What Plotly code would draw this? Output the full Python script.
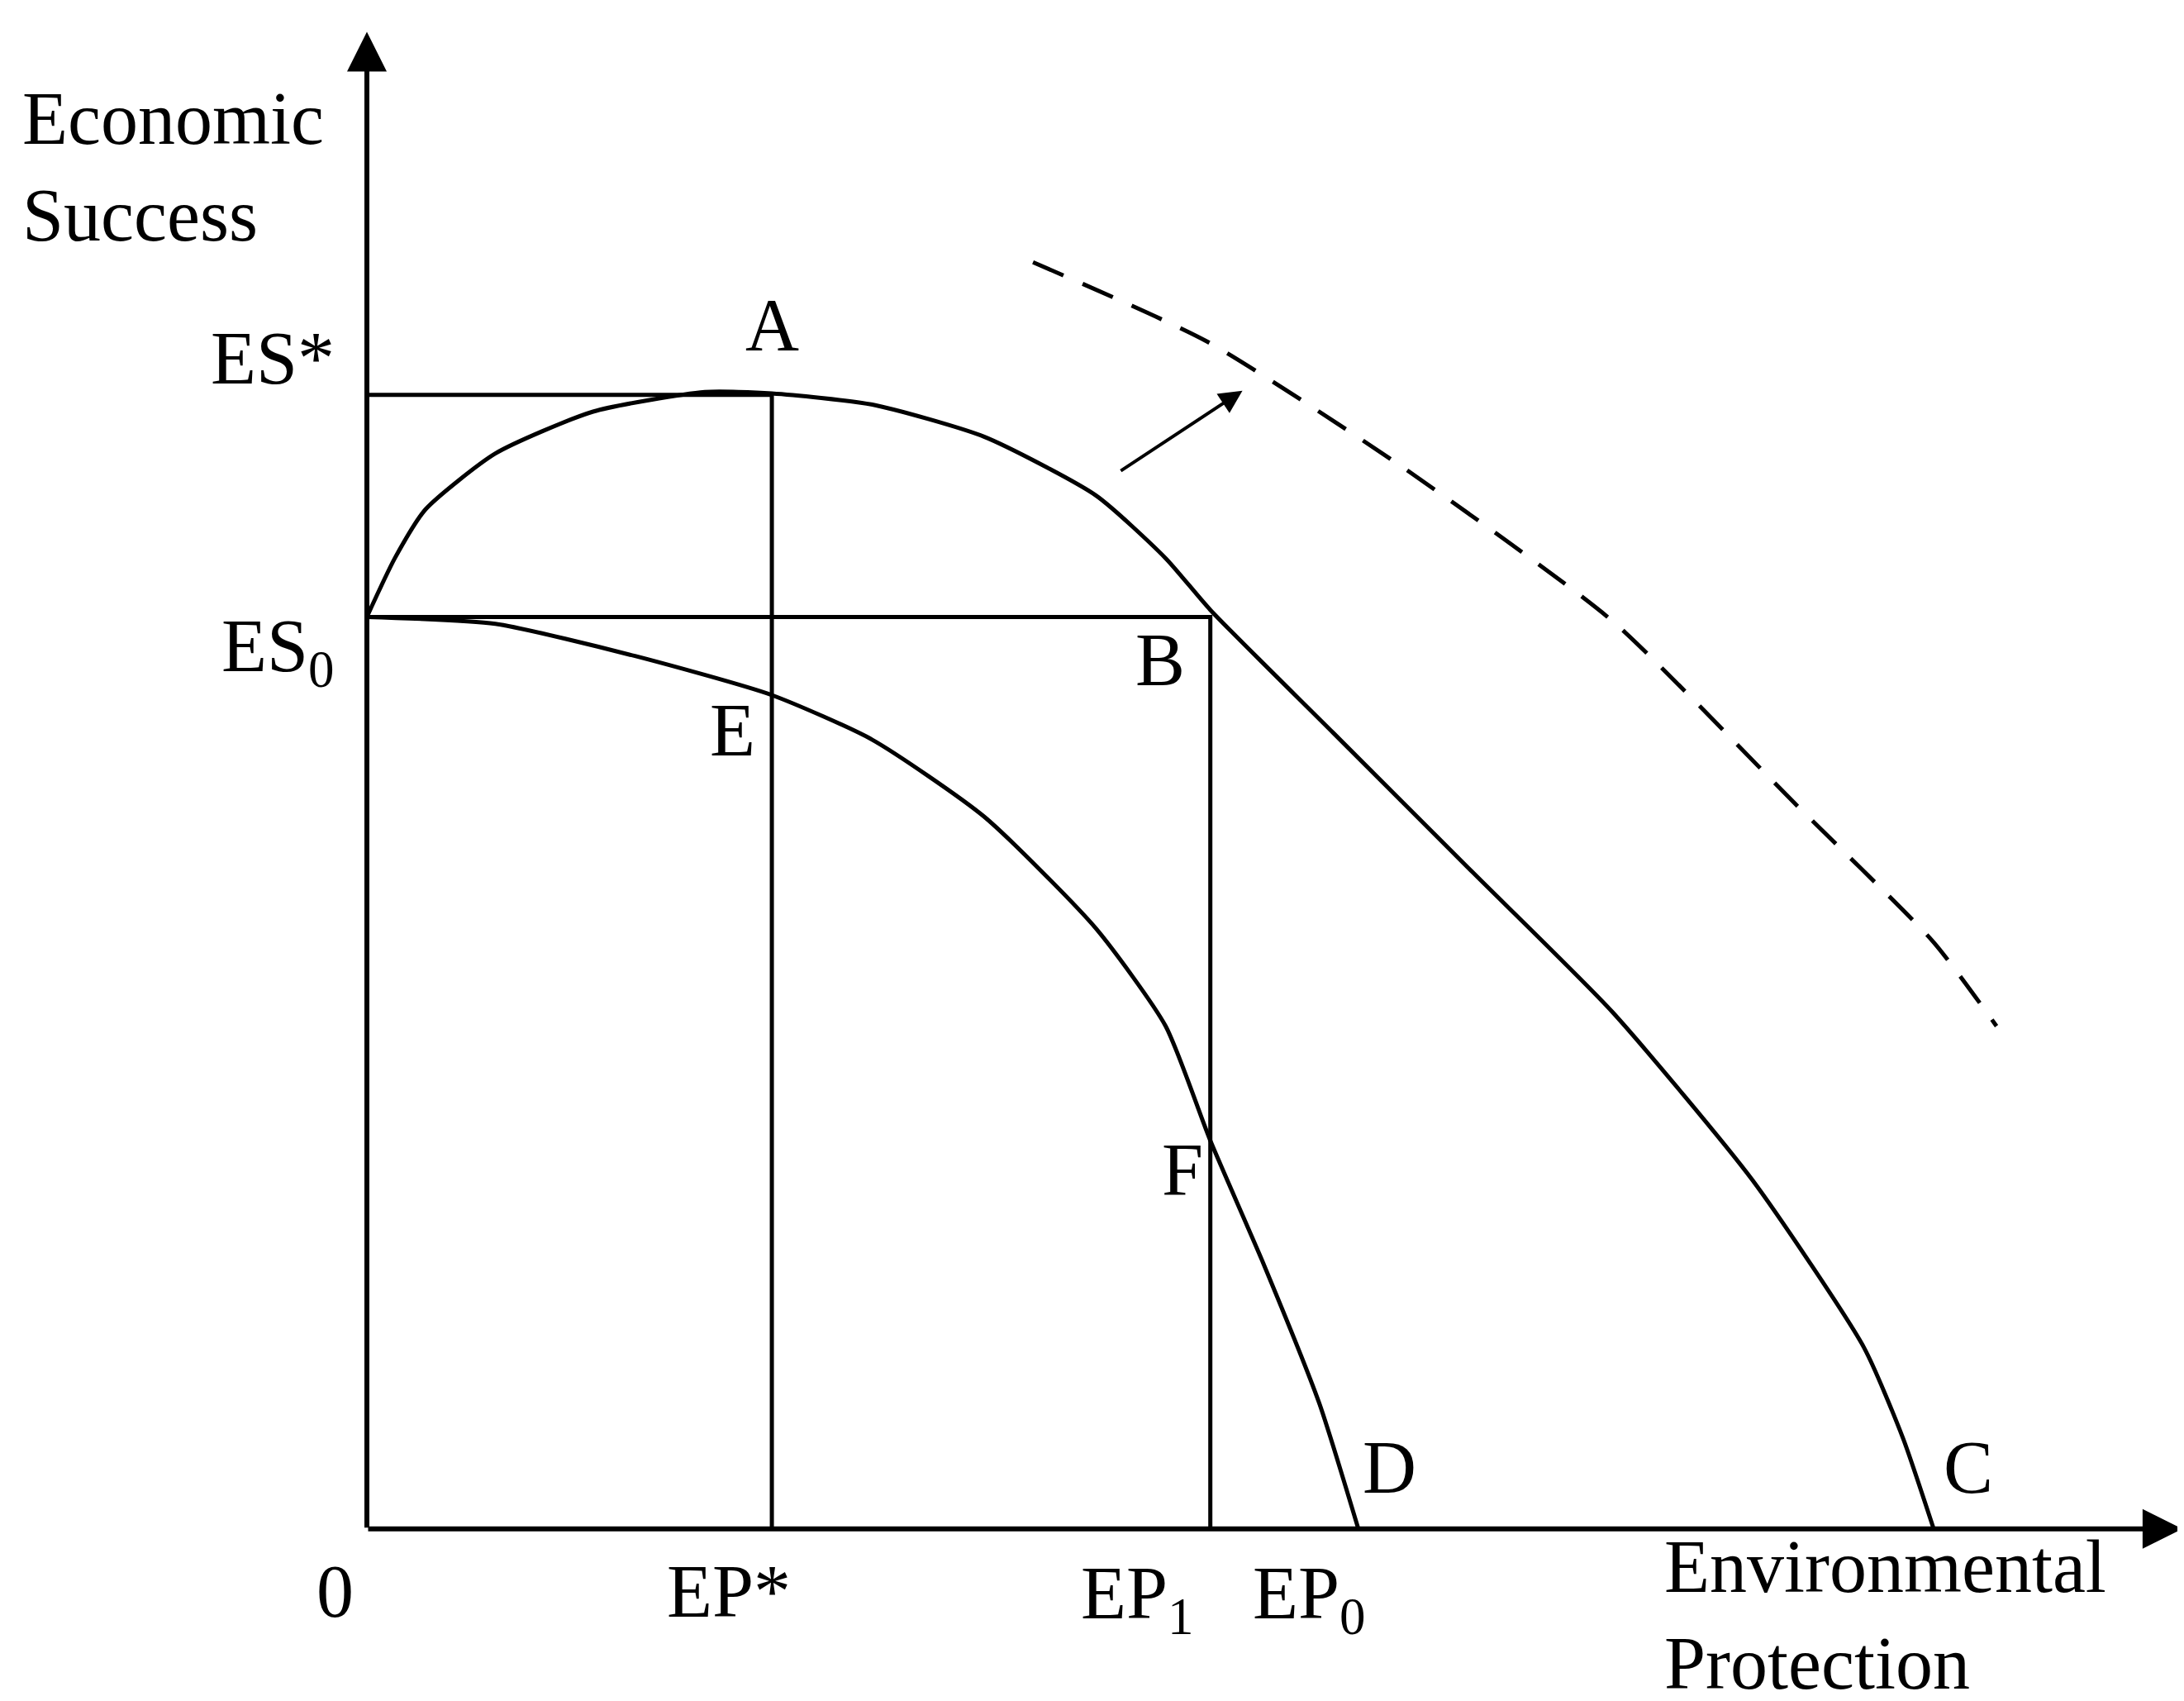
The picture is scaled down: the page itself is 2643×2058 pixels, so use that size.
import plotly.graph_objects as go

# curve points (environmental protection, economic success)
upper_x = [0, 20, 42, 92, 162, 242, 290, 362, 442, 522, 572, 604, 692, 792, 892, 992, 1072, 1100, 1122]
upper_y = [653, 695, 730, 770, 800, 814, 813, 805, 782, 740, 695, 658, 570, 470, 370, 250, 130, 65, 0]
lower_x = [0, 92, 192, 290, 362, 442, 522, 572, 604, 642, 682, 710]
lower_y = [653, 648, 625, 597, 565, 510, 430, 360, 278, 190, 90, 0]
shift_x = [477, 602, 742, 892, 1022, 1122, 1167]
shift_y = [907, 850, 760, 650, 520, 420, 360]

es_star, es0 = 812, 653
ep_star, ep1 = 290, 604

fnt = dict(family="Liberation Serif", size=90, color="black")
ln = dict(color="black", width=5)

fig = go.Figure()
fig.add_trace(go.Scatter(x=upper_x, y=upper_y, mode="lines",
                         line=dict(ln, shape="spline", smoothing=0.6)))
fig.add_trace(go.Scatter(x=lower_x, y=lower_y, mode="lines",
                         line=dict(ln, shape="spline", smoothing=0.6)))
fig.add_trace(go.Scatter(x=shift_x, y=shift_y, mode="lines",
                         line=dict(color="black", width=5, dash="40px,25px", shape="spline", smoothing=0.6)))
# guide lines
fig.add_trace(go.Scatter(x=[0, ep_star, ep_star], y=[es_star, es_star, 0], mode="lines", line=ln))
fig.add_trace(go.Scatter(x=[0, ep1, ep1], y=[es0, es0, 0], mode="lines", line=ln))

# axes with arrows
fig.add_annotation(x=1300, y=0, ax=0, ay=0, xref="x", yref="y", axref="x", ayref="y",
                   showarrow=True, arrowhead=2, arrowsize=1.6, arrowwidth=6,
                   arrowcolor="black", text="")
fig.add_annotation(x=0, y=1072, ax=0, ay=0, xref="x", yref="y", axref="x", ayref="y",
                   showarrow=True, arrowhead=2, arrowsize=1.6, arrowwidth=6,
                   arrowcolor="black", text="")
# shift arrow
fig.add_annotation(x=627, y=815, ax=539, ay=757, xref="x", yref="y", axref="x", ayref="y",
                   showarrow=True, arrowhead=2, arrowsize=1.4, arrowwidth=4,
                   arrowcolor="black", text="")

labels = [
    (-248, 975, "Economic<br>Success", "left"),
    (-22, 838, "ES*", "right"),
    (-22, 628, "ES<sub>0</sub>", "right"),
    (290, 862, "A", "center"),
    (568, 622, "B", "center"),
    (262, 572, "E", "center"),
    (584, 257, "F", "center"),
    (732, 44, "D", "center"),
    (1147, 44, "C", "center"),
    (-23, -45, "0", "center"),
    (259, -45, "EP*", "center"),
    (552, -50, "EP<sub>1</sub>", "center"),
    (675, -50, "EP<sub>0</sub>", "center"),
    (928, -62, "Environmental<br>Protection", "left"),
]
for x, y, t, al in labels:
    fig.add_annotation(x=x, y=y, text=t, showarrow=False, xanchor=al, align=al,
                       font=fnt, xref="x", yref="y")

fig.update_layout(
    width=2643, height=2058, showlegend=False,
    margin=dict(l=0, r=0, t=0, b=0),
    plot_bgcolor="white", paper_bgcolor="white",
    xaxis=dict(range=[-258, 1306], visible=False),
    yaxis=dict(range=[-128, 1090], visible=False),
)
fig.write_html("out.html")
